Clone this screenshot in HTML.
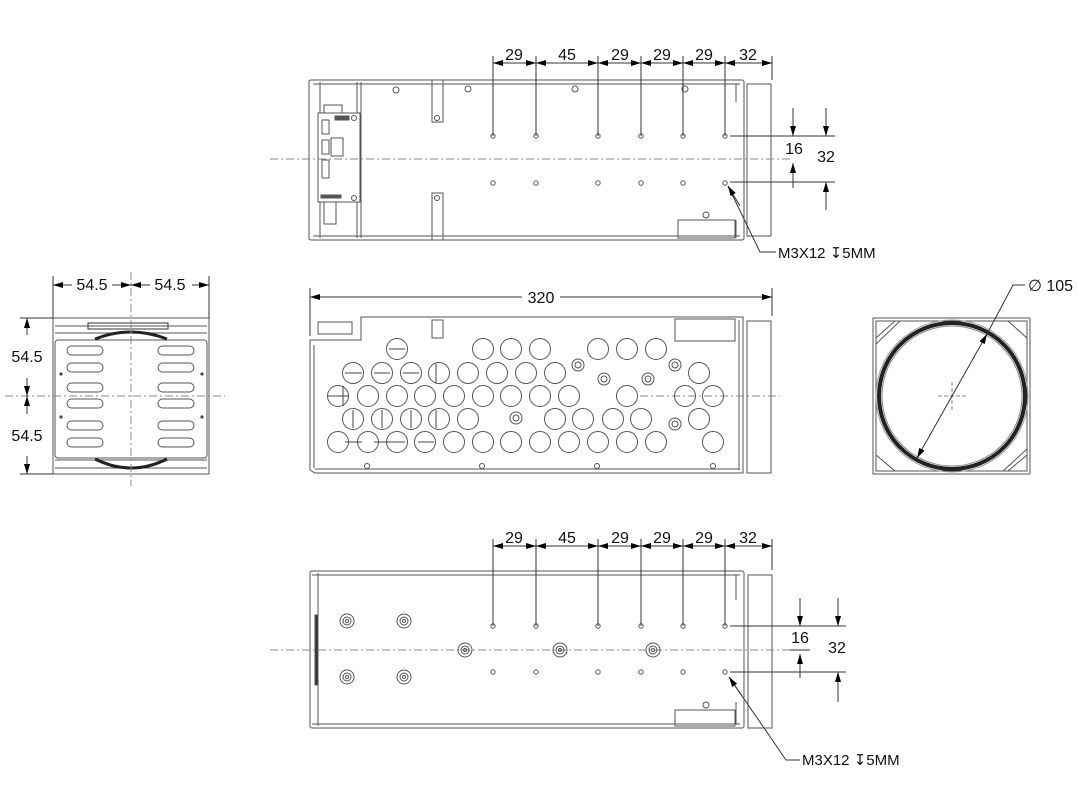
<!DOCTYPE html>
<html><head><meta charset="utf-8"><style>
html,body{margin:0;padding:0;background:#fff;}
svg{display:block;}
text{font-family:"Liberation Sans",sans-serif;fill:#111;}
</style></head><body>
<svg width="1078" height="808" viewBox="0 0 1078 808" xmlns="http://www.w3.org/2000/svg">
<defs>
<marker id="a" viewBox="0 0 10 6" refX="10" refY="3" markerWidth="11" markerHeight="6" markerUnits="userSpaceOnUse" orient="auto-start-reverse"><path d="M0,0L10,3L0,6z" fill="#000"/></marker>
</defs>
<g fill="none" stroke="#555" stroke-width="1">

<!-- ===== TOP VIEW ===== -->
<rect x="309" y="80" width="435" height="160" rx="2"/>
<line x1="320" y1="82" x2="320" y2="238"/>
<line x1="357" y1="82" x2="357" y2="238"/><line x1="361" y1="82" x2="361" y2="238"/>
<line x1="313" y1="84" x2="740" y2="84"/>
<line x1="313" y1="236" x2="740" y2="236"/>
<rect x="318" y="113" width="42" height="89" fill="#fff"/>
<rect x="324" y="105" width="18" height="8"/>
<rect x="324" y="202" width="12" height="22"/>
<rect x="322" y="120" width="7" height="14"/><rect x="322" y="140" width="7" height="14"/><rect x="322" y="160" width="7" height="18"/>
<rect x="331" y="138" width="12" height="18"/>
<rect x="335" y="116" width="14" height="4" fill="#555"/>
<rect x="321" y="195" width="20" height="3" fill="#555"/>
<rect x="432" y="80" width="11" height="42"/><rect x="432" y="193" width="11" height="47"/>
<rect x="678" y="220" width="57" height="18"/>
<line x1="736" y1="84" x2="736" y2="102"/><line x1="736" y1="220" x2="736" y2="238"/>
<rect x="747" y="84" width="24" height="152"/>
<g>
<circle cx="493" cy="136" r="2.2"/><circle cx="536" cy="136" r="2.2"/><circle cx="598" cy="136" r="2.2"/><circle cx="641" cy="136" r="2.2"/><circle cx="683" cy="136" r="2.2"/><circle cx="725" cy="136" r="2.2"/>
<circle cx="493" cy="183" r="2.2"/><circle cx="536" cy="183" r="2.2"/><circle cx="598" cy="183" r="2.2"/><circle cx="641" cy="183" r="2.2"/><circle cx="683" cy="183" r="2.2"/><circle cx="725" cy="183" r="2.2"/>
<circle cx="396" cy="90" r="3"/><circle cx="468" cy="89" r="3"/><circle cx="575" cy="89" r="3"/><circle cx="685" cy="89" r="3"/><circle cx="706" cy="215" r="3"/>
<circle cx="437" cy="118" r="2.5"/><circle cx="437" cy="198" r="2.5"/><circle cx="354" cy="118" r="2.5"/><circle cx="354" cy="198" r="2.5"/>
</g>
<line x1="270" y1="159" x2="790" y2="159" stroke-dasharray="8,3,2,3" stroke="#888"/>
<g stroke="#333">
<line x1="493" y1="56" x2="493" y2="136"/><line x1="536" y1="56" x2="536" y2="136"/><line x1="598" y1="56" x2="598" y2="136"/><line x1="641" y1="56" x2="641" y2="136"/><line x1="683" y1="56" x2="683" y2="136"/><line x1="725" y1="56" x2="725" y2="136"/><line x1="772" y1="56" x2="772" y2="80"/>
<line x1="493" y1="63" x2="536" y2="63" marker-start="url(#a)" marker-end="url(#a)"/>
<line x1="536" y1="63" x2="598" y2="63" marker-start="url(#a)" marker-end="url(#a)"/>
<line x1="598" y1="63" x2="641" y2="63" marker-start="url(#a)" marker-end="url(#a)"/>
<line x1="641" y1="63" x2="683" y2="63" marker-start="url(#a)" marker-end="url(#a)"/>
<line x1="683" y1="63" x2="725" y2="63" marker-start="url(#a)" marker-end="url(#a)"/>
<line x1="725" y1="63" x2="772" y2="63" marker-start="url(#a)" marker-end="url(#a)"/>
<line x1="730" y1="136" x2="835" y2="136"/><line x1="730" y1="182" x2="835" y2="182"/>
<line x1="793" y1="108" x2="793" y2="136" marker-end="url(#a)"/>
<line x1="793" y1="188" x2="793" y2="163" marker-end="url(#a)"/>
<line x1="826" y1="108" x2="826" y2="136" marker-end="url(#a)"/>
<line x1="826" y1="210" x2="826" y2="182" marker-end="url(#a)"/>
<polyline points="776,252 760,252 728,186"/>
<line x1="740" y1="206" x2="728" y2="186" marker-end="url(#a)"/>
</g>

<!-- ===== MIDDLE SIDE VIEW ===== -->
<path d="M361,340 L361,317 L743,317 L743,473 L315,473 L310,470 L310,340 Z"/>
<line x1="314" y1="345" x2="314" y2="468"/>
<line x1="315" y1="469" x2="740" y2="469"/>
<line x1="739" y1="320" x2="739" y2="470"/>
<rect x="675" y="319" width="60" height="22"/>
<rect x="747" y="321" width="24" height="152"/>
<rect x="318" y="322" width="34" height="12"/>
<rect x="432" y="320" width="11" height="18"/>
<line x1="640" y1="396" x2="780" y2="396" stroke-dasharray="8,3,2,3" stroke="#888"/>
<g>
<circle cx="397" cy="349" r="10.5"/>
<circle cx="483" cy="349" r="10.5"/><circle cx="511" cy="349" r="10.5"/><circle cx="540" cy="349" r="10.5"/><circle cx="598" cy="349" r="10.5"/><circle cx="627" cy="349" r="10.5"/><circle cx="656" cy="349" r="10.5"/>
<circle cx="353" cy="373" r="10.5"/><circle cx="382" cy="373" r="10.5"/><circle cx="411" cy="373" r="10.5"/><circle cx="439" cy="373" r="10.5"/><circle cx="468" cy="373" r="10.5"/><circle cx="497" cy="373" r="10.5"/><circle cx="526" cy="373" r="10.5"/><circle cx="555" cy="373" r="10.5"/><circle cx="699" cy="373" r="10.5"/>
<circle cx="338" cy="396" r="10.5"/><circle cx="368" cy="396" r="10.5"/><circle cx="397" cy="396" r="10.5"/><circle cx="425" cy="396" r="10.5"/><circle cx="454" cy="396" r="10.5"/><circle cx="483" cy="396" r="10.5"/><circle cx="511" cy="396" r="10.5"/><circle cx="540" cy="396" r="10.5"/><circle cx="569" cy="396" r="10.5"/><circle cx="627" cy="396" r="10.5"/><circle cx="685" cy="396" r="10.5"/><circle cx="713" cy="396" r="10.5"/>
<circle cx="353" cy="419" r="10.5"/><circle cx="382" cy="419" r="10.5"/><circle cx="411" cy="419" r="10.5"/><circle cx="439" cy="419" r="10.5"/><circle cx="468" cy="419" r="10.5"/><circle cx="555" cy="419" r="10.5"/><circle cx="583" cy="419" r="10.5"/><circle cx="613" cy="419" r="10.5"/><circle cx="641" cy="419" r="10.5"/><circle cx="699" cy="419" r="10.5"/>
<circle cx="338" cy="442" r="10.5"/><circle cx="368" cy="442" r="10.5"/><circle cx="397" cy="442" r="10.5"/><circle cx="425" cy="442" r="10.5"/><circle cx="454" cy="442" r="10.5"/><circle cx="483" cy="442" r="10.5"/><circle cx="511" cy="442" r="10.5"/><circle cx="540" cy="442" r="10.5"/><circle cx="569" cy="442" r="10.5"/><circle cx="598" cy="442" r="10.5"/><circle cx="627" cy="442" r="10.5"/><circle cx="656" cy="442" r="10.5"/><circle cx="713" cy="442" r="10.5"/>
</g>
<g>
<circle cx="578" cy="365" r="6"/><circle cx="578" cy="365" r="3"/>
<circle cx="675" cy="365" r="6"/><circle cx="675" cy="365" r="3"/>
<circle cx="604" cy="379" r="6"/><circle cx="604" cy="379" r="3"/>
<circle cx="648" cy="379" r="6"/><circle cx="648" cy="379" r="3"/>
<circle cx="516" cy="418" r="6"/><circle cx="516" cy="418" r="3"/>
<circle cx="675" cy="424" r="6"/><circle cx="675" cy="424" r="3"/>
<circle cx="367" cy="466" r="2.5"/><circle cx="482" cy="466" r="2.5"/><circle cx="597" cy="466" r="2.5"/><circle cx="713" cy="466" r="2.5"/>
</g>
<g stroke="#444">
<line x1="328" y1="396" x2="348" y2="396"/><line x1="343" y1="386" x2="343" y2="406"/>
<line x1="345" y1="373" x2="362" y2="373"/><line x1="374" y1="373" x2="390" y2="373"/><line x1="403" y1="373" x2="419" y2="373"/><line x1="436" y1="364" x2="436" y2="383"/>
<line x1="345" y1="442" x2="362" y2="442"/><line x1="374" y1="442" x2="390" y2="442"/><line x1="389" y1="442" x2="405" y2="442"/><line x1="418" y1="442" x2="434" y2="442"/>
<line x1="389" y1="349" x2="405" y2="349"/><line x1="353" y1="410" x2="353" y2="428"/><line x1="382" y1="410" x2="382" y2="428"/><line x1="411" y1="410" x2="411" y2="428"/><line x1="436" y1="410" x2="436" y2="428"/>
</g>
<g stroke="#333">
<line x1="310" y1="288" x2="310" y2="336"/><line x1="772" y1="288" x2="772" y2="316"/>
<line x1="522" y1="297" x2="310" y2="297" marker-end="url(#a)"/>
<line x1="560" y1="297" x2="772" y2="297" marker-end="url(#a)"/>
</g>

<!-- ===== LEFT END VIEW ===== -->
<rect x="53" y="318" width="156" height="156"/>
<rect x="55" y="340" width="152" height="118" rx="3"/>
<line x1="55" y1="326" x2="207" y2="326"/><line x1="55" y1="333" x2="207" y2="333"/>
<line x1="55" y1="460" x2="207" y2="460"/><line x1="55" y1="468" x2="207" y2="468"/>
<path d="M95,339 Q131,325 167,339" stroke="#222" stroke-width="3"/>
<path d="M95,459 Q131,477 167,459" stroke="#222" stroke-width="3"/>
<rect x="88" y="323" width="80" height="6" stroke="#333"/>
<g>
<rect x="67" y="346" width="36" height="9" rx="4.5"/><rect x="67" y="363" width="36" height="9" rx="4.5"/><rect x="67" y="383" width="36" height="9" rx="4.5"/><rect x="67" y="399" width="36" height="9" rx="4.5"/><rect x="67" y="421" width="36" height="9" rx="4.5"/><rect x="67" y="438" width="36" height="9" rx="4.5"/>
<rect x="158" y="346" width="36" height="9" rx="4.5"/><rect x="158" y="363" width="36" height="9" rx="4.5"/><rect x="158" y="383" width="36" height="9" rx="4.5"/><rect x="158" y="399" width="36" height="9" rx="4.5"/><rect x="158" y="421" width="36" height="9" rx="4.5"/><rect x="158" y="438" width="36" height="9" rx="4.5"/>
</g>
<g fill="#444" stroke="none"><circle cx="61" cy="374" r="1.6"/><circle cx="61" cy="417" r="1.6"/><circle cx="202" cy="374" r="1.6"/><circle cx="202" cy="417" r="1.6"/></g>
<line x1="131" y1="272" x2="131" y2="486" stroke-dasharray="8,3,2,3" stroke="#888"/>
<line x1="5" y1="396" x2="225" y2="396" stroke-dasharray="8,3,2,3" stroke="#888"/>
<g stroke="#333">
<line x1="53" y1="276" x2="53" y2="318"/><line x1="209" y1="276" x2="209" y2="318"/>
<line x1="72" y1="285" x2="53" y2="285" marker-end="url(#a)"/>
<line x1="112" y1="285" x2="131" y2="285" marker-end="url(#a)"/>
<line x1="150" y1="285" x2="131" y2="285" marker-end="url(#a)"/>
<line x1="192" y1="285" x2="209" y2="285" marker-end="url(#a)"/>
<line x1="20" y1="318" x2="53" y2="318"/><line x1="20" y1="474" x2="53" y2="474"/>
<line x1="27" y1="335" x2="27" y2="318" marker-end="url(#a)"/>
<line x1="27" y1="378" x2="27" y2="396" marker-end="url(#a)"/>
<line x1="27" y1="414" x2="27" y2="396" marker-end="url(#a)"/>
<line x1="27" y1="456" x2="27" y2="474" marker-end="url(#a)"/>
</g>

<!-- ===== RIGHT END VIEW ===== -->
<rect x="873" y="318" width="157" height="156"/>
<rect x="876" y="321" width="151" height="150"/>
<path d="M876,338 L895,321 M876,344 L900,321 M1027,338 L1008,321 M1027,455 L1008,471 M1027,449 L1003,471 M876,455 L895,471"/>
<circle cx="952" cy="396" r="76" stroke="#999"/>
<circle cx="952" cy="396" r="73" stroke="#222" stroke-width="4"/>
<circle cx="952" cy="396" r="70" stroke="#888"/>
<line x1="938" y1="396" x2="966" y2="396" stroke-dasharray="4,2" stroke="#888"/>
<line x1="952" y1="382" x2="952" y2="410" stroke-dasharray="4,2" stroke="#888"/>
<g stroke="#333">
<line x1="952" y1="396" x2="987" y2="334" marker-end="url(#a)"/>
<line x1="952" y1="396" x2="917" y2="458" marker-end="url(#a)"/>
<polyline points="987,334 1013,285 1025,285"/>
</g>

<!-- ===== BOTTOM VIEW ===== -->
<rect x="310" y="571" width="434" height="157" rx="2"/>
<line x1="318" y1="573" x2="318" y2="726"/>
<line x1="312" y1="575" x2="740" y2="575"/>
<line x1="312" y1="724" x2="740" y2="724"/>
<rect x="315" y="615" width="3" height="70" fill="#333"/>
<rect x="675" y="710" width="60" height="16"/>
<line x1="736" y1="575" x2="736" y2="600"/><line x1="736" y1="702" x2="736" y2="724"/>
<rect x="748" y="575" width="24" height="153"/>
<line x1="270" y1="650" x2="810" y2="650" stroke-dasharray="8,3,2,3" stroke="#888"/>
<g>
<circle cx="493" cy="626" r="2.2"/><circle cx="536" cy="626" r="2.2"/><circle cx="598" cy="626" r="2.2"/><circle cx="641" cy="626" r="2.2"/><circle cx="683" cy="626" r="2.2"/><circle cx="725" cy="626" r="2.2"/>
<circle cx="493" cy="672" r="2.2"/><circle cx="536" cy="672" r="2.2"/><circle cx="598" cy="672" r="2.2"/><circle cx="641" cy="672" r="2.2"/><circle cx="683" cy="672" r="2.2"/><circle cx="725" cy="672" r="2.2"/>
<circle cx="347" cy="621" r="7"/><circle cx="347" cy="621" r="4"/><circle cx="347" cy="621" r="1.5"/>
<circle cx="404" cy="621" r="7"/><circle cx="404" cy="621" r="4"/><circle cx="404" cy="621" r="1.5"/>
<circle cx="347" cy="677" r="7"/><circle cx="347" cy="677" r="4"/><circle cx="347" cy="677" r="1.5"/>
<circle cx="404" cy="677" r="7"/><circle cx="404" cy="677" r="4"/><circle cx="404" cy="677" r="1.5"/>
<circle cx="465" cy="650" r="7"/><circle cx="465" cy="650" r="4"/><circle cx="465" cy="650" r="1.5"/>
<circle cx="560" cy="650" r="7"/><circle cx="560" cy="650" r="4"/><circle cx="560" cy="650" r="1.5"/>
<circle cx="653" cy="650" r="7"/><circle cx="653" cy="650" r="4"/><circle cx="653" cy="650" r="1.5"/>
<circle cx="706" cy="705" r="3"/>
</g>
<g stroke="#333">
<line x1="493" y1="539" x2="493" y2="626"/><line x1="536" y1="539" x2="536" y2="626"/><line x1="598" y1="539" x2="598" y2="626"/><line x1="641" y1="539" x2="641" y2="626"/><line x1="683" y1="539" x2="683" y2="626"/><line x1="725" y1="539" x2="725" y2="626"/><line x1="772" y1="539" x2="772" y2="570"/>
<line x1="493" y1="546" x2="536" y2="546" marker-start="url(#a)" marker-end="url(#a)"/>
<line x1="536" y1="546" x2="598" y2="546" marker-start="url(#a)" marker-end="url(#a)"/>
<line x1="598" y1="546" x2="641" y2="546" marker-start="url(#a)" marker-end="url(#a)"/>
<line x1="641" y1="546" x2="683" y2="546" marker-start="url(#a)" marker-end="url(#a)"/>
<line x1="683" y1="546" x2="725" y2="546" marker-start="url(#a)" marker-end="url(#a)"/>
<line x1="725" y1="546" x2="772" y2="546" marker-start="url(#a)" marker-end="url(#a)"/>
<line x1="730" y1="626" x2="846" y2="626"/><line x1="730" y1="672" x2="846" y2="672"/>
<line x1="800" y1="598" x2="800" y2="626" marker-end="url(#a)"/>
<line x1="800" y1="678" x2="800" y2="654" marker-end="url(#a)"/>
<line x1="838" y1="598" x2="838" y2="626" marker-end="url(#a)"/>
<line x1="838" y1="702" x2="838" y2="672" marker-end="url(#a)"/>
<line x1="790" y1="650" x2="810" y2="650"/>
<polyline points="800,760 786,760 729,677"/>
<line x1="742" y1="696" x2="729" y2="677" marker-end="url(#a)"/>
</g>
</g>

<g font-size="16">
<text x="514" y="60" text-anchor="middle">29</text>
<text x="567" y="60" text-anchor="middle">45</text>
<text x="620" y="60" text-anchor="middle">29</text>
<text x="662" y="60" text-anchor="middle">29</text>
<text x="704" y="60" text-anchor="middle">29</text>
<text x="748" y="60" text-anchor="middle">32</text>
<text x="794" y="154" text-anchor="middle">16</text>
<text x="826" y="162" text-anchor="middle">32</text>
<text x="778" y="258" font-size="15">M3X12 ↧5MM</text>

<text x="541" y="303" text-anchor="middle">320</text>
<text x="92" y="290" text-anchor="middle">54.5</text>
<text x="170" y="290" text-anchor="middle">54.5</text>
<text x="27" y="362" text-anchor="middle">54.5</text>
<text x="27" y="441" text-anchor="middle">54.5</text>
<text x="1028" y="291">∅ 105</text>

<text x="514" y="543" text-anchor="middle">29</text>
<text x="567" y="543" text-anchor="middle">45</text>
<text x="620" y="543" text-anchor="middle">29</text>
<text x="662" y="543" text-anchor="middle">29</text>
<text x="704" y="543" text-anchor="middle">29</text>
<text x="748" y="543" text-anchor="middle">32</text>
<text x="800" y="643" text-anchor="middle">16</text>
<text x="837" y="653" text-anchor="middle">32</text>
<text x="802" y="765" font-size="15">M3X12 ↧5MM</text>
</g>
</svg>
</body></html>
